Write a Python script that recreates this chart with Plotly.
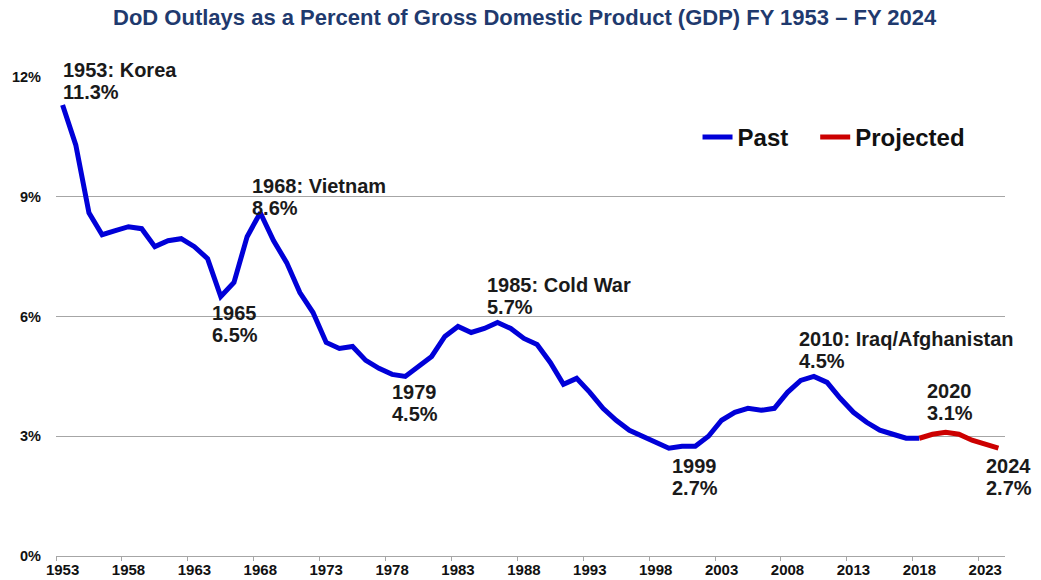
import plotly.graph_objects as go

# Fiscal years and DoD outlays as % of GDP
past_years = [str(y) for y in range(1953, 2019)]
past_pct = [
    11.3, 10.3, 8.6, 8.05, 8.15, 8.25, 8.2, 7.75, 7.9, 7.95,   # 1953-1962
    7.75, 7.45, 6.5, 6.85, 8.0, 8.6, 7.9, 7.35, 6.6, 6.1,      # 1963-1972
    5.35, 5.2, 5.25, 4.9, 4.7, 4.55, 4.5, 4.75, 5.0, 5.5,      # 1973-1982
    5.75, 5.6, 5.7, 5.85, 5.7, 5.45, 5.3, 4.85, 4.3, 4.45,     # 1983-1992
    4.1, 3.7, 3.4, 3.15, 3.0, 2.85, 2.7, 2.75, 2.75, 3.0,      # 1993-2002
    3.4, 3.6, 3.7, 3.65, 3.7, 4.1, 4.4, 4.5, 4.35, 3.95,       # 2003-2012
    3.6, 3.35, 3.15, 3.05, 2.95, 2.95,                         # 2013-2018
]

proj_years = [str(y) for y in range(2018, 2025)]
proj_pct = [2.95, 3.05, 3.1, 3.05, 2.9, 2.8, 2.7]

# Callouts: (year, caption, xshift, caption yshift); the value line sits below
callouts = [
    ("1953", "1953: Korea", -2, 35),
    ("1965", "1965", -11, -16),
    ("1968", "1968: Vietnam", -10, 27),
    ("1979", "1979", -15, -16),
    ("1985", "1985: Cold War", 1, 43),
    ("1999", "1999", 1, -18),
    ("2010", "2010: Iraq/Afghanistan", -17, 37),
    ("2020", "2020", -21, 41),
    ("2024", "2024", -14, -18),
]
LINE_GAP = 22

y_ticks = [0, 3, 6, 9, 12]
y_tick_text = ["0%", "3%", "6%", "9%", "12%"]

FONT = "Arial, Liberation Sans, sans-serif"
BLUE = "#0000D8"
RED = "#CC0000"
GRID = "#A6A6A6"

all_years = past_years + [y for y in proj_years if y not in past_years]
lookup = dict(zip(past_years, past_pct))
lookup.update(dict(zip(proj_years, proj_pct)))

fig = go.Figure()
fig.add_trace(go.Scatter(
    x=past_years, y=past_pct, mode="lines", name="Past",
    line=dict(color=BLUE, width=5), legend="legend",
))
fig.add_trace(go.Scatter(
    x=proj_years, y=proj_pct, mode="lines", name="Projected",
    line=dict(color=RED, width=5), legend="legend2",
))

label_font = dict(family=FONT, size=20, color="#1A1A1A", weight="bold")
for yr, cap, dx, dy in callouts:
    val = lookup[yr]
    idx = all_years.index(yr)
    for text, shift in ((cap, dy), (f"{val:.1f}%", dy - LINE_GAP)):
        fig.add_annotation(
            x=idx, y=val, xref="x", yref="y",
            text=text, showarrow=False,
            xanchor="left", yanchor="middle",
            xshift=dx, yshift=shift,
            font=label_font,
        )

legend_font = dict(family=FONT, size=24, color="#111111", weight="bold")

fig.update_layout(
    width=1041, height=580,
    margin=dict(l=53, r=36, t=77, b=24),
    paper_bgcolor="white", plot_bgcolor="white",
    title=dict(
        text="<b>DoD Outlays as a Percent of Gross Domestic Product (GDP) FY 1953 – FY 2024</b>",
        x=0.504, xref="container", xanchor="center",
        y=0.971, yref="container", yanchor="middle",
        font=dict(family=FONT, size=22, color="#1F3A6E"),
    ),
    showlegend=True,
    legend=dict(
        orientation="h", x=0.676, xanchor="left", y=0.874, yanchor="middle",
        font=legend_font, bgcolor="rgba(0,0,0,0)",
    ),
    legend2=dict(
        orientation="h", x=0.8, xanchor="left", y=0.874, yanchor="middle",
        font=legend_font, bgcolor="rgba(0,0,0,0)",
    ),
    xaxis=dict(
        type="category",
        categoryorder="array", categoryarray=all_years,
        range=[-0.5, len(all_years) - 0.5],
        tickmode="linear", tick0=0, dtick=5,
        tickson="boundaries", tickangle=0,
        ticks="outside", ticklen=4, tickcolor=GRID,
        showline=True, linecolor=GRID, linewidth=1,
        showgrid=False, zeroline=False, automargin=False,
        tickfont=dict(family=FONT, size=15, color="#111111", weight="bold"),
    ),
    yaxis=dict(
        range=[0, 12],
        tickvals=y_ticks, ticktext=y_tick_text,
        showgrid=True, gridcolor=GRID, gridwidth=1,
        zeroline=False, showline=False,
        ticklabelstandoff=14,
        tickfont=dict(family=FONT, size=14.5, color="#111111", weight="bold"),
    ),
)

fig.write_html("out.html")
